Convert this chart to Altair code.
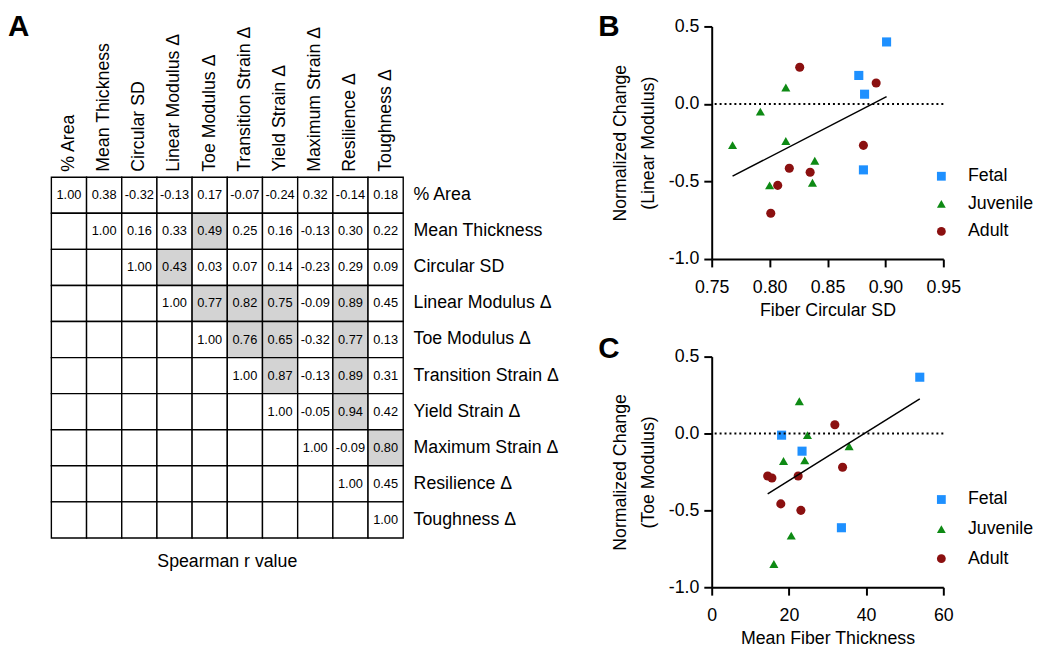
import altair as alt
import pandas as pd

FONT = "Liberation Sans, Arial, Helvetica, sans-serif"
MINUS = "\u2212"

# ---------------- Panel A data ----------------
variables = ["% Area", "Mean Thickness", "Circular SD", "Linear Modulus Δ", "Toe Modulus Δ",
             "Transition Strain Δ", "Yield Strain Δ", "Maximum Strain Δ", "Resilience Δ", "Toughness Δ"]

# Spearman r, upper triangle, each row starting at the diagonal
r_area = [1.00, 0.38, -0.32, -0.13, 0.17, -0.07, -0.24, 0.32, -0.14, 0.18]
r_thickness = [1.00, 0.16, 0.33, 0.49, 0.25, 0.16, -0.13, 0.30, 0.22]
r_circsd = [1.00, 0.43, 0.03, 0.07, 0.14, -0.23, 0.29, 0.09]
r_linmod = [1.00, 0.77, 0.82, 0.75, -0.09, 0.89, 0.45]
r_toemod = [1.00, 0.76, 0.65, -0.32, 0.77, 0.13]
r_transition = [1.00, 0.87, -0.13, 0.89, 0.31]
r_yield = [1.00, -0.05, 0.94, 0.42]
r_maxstrain = [1.00, -0.09, 0.80]
r_resilience = [1.00, 0.45]
r_toughness = [1.00]
r_rows = [r_area, r_thickness, r_circsd, r_linmod, r_toemod,
          r_transition, r_yield, r_maxstrain, r_resilience, r_toughness]

significant = [
    ("Mean Thickness", "Toe Modulus Δ"),
    ("Circular SD", "Linear Modulus Δ"),
    ("Linear Modulus Δ", "Toe Modulus Δ"),
    ("Linear Modulus Δ", "Transition Strain Δ"),
    ("Linear Modulus Δ", "Yield Strain Δ"),
    ("Linear Modulus Δ", "Resilience Δ"),
    ("Toe Modulus Δ", "Transition Strain Δ"),
    ("Toe Modulus Δ", "Yield Strain Δ"),
    ("Toe Modulus Δ", "Resilience Δ"),
    ("Transition Strain Δ", "Yield Strain Δ"),
    ("Transition Strain Δ", "Resilience Δ"),
    ("Yield Strain Δ", "Resilience Δ"),
    ("Maximum Strain Δ", "Toughness Δ"),
]

cells = []
for i, rname in enumerate(variables):
    for j, cname in enumerate(variables):
        if j >= i:
            lab = f"{r_rows[i][j - i]:.2f}"
        else:
            lab = ""
        shade = "yes" if (rname, cname) in significant else "no"
        cells.append({"row": rname, "col": cname, "label": lab, "shade": shade})
cells_df = pd.DataFrame(cells)

# ---------------- Panels B / C data ----------------
groups = ["Fetal", "Juvenile", "Adult"]
group_colors = ["#1E90FF", "#0E8A14", "#8B1010"]
group_shapes = ["square", "triangle-up", "circle"]

b_fetal_x = [0.901, 0.877, 0.882, 0.881]
b_fetal_y = [0.40, 0.184, 0.063, -0.425]
b_juv_x = [0.768, 0.792, 0.814, 0.814, 0.800, 0.839, 0.837]
b_juv_y = [-0.265, -0.049, 0.106, -0.239, -0.525, -0.366, -0.508]
b_adult_x = [0.826, 0.892, 0.881, 0.817, 0.835, 0.807, 0.801]
b_adult_y = [0.237, 0.135, -0.267, -0.415, -0.44, -0.525, -0.705]

c_fetal_x = [53.9, 18.1, 23.4, 33.6]
c_fetal_y = [0.366, -0.011, -0.115, -0.613]
c_juv_x = [22.7, 24.8, 35.6, 18.6, 24.1, 20.6, 16.1]
c_juv_y = [0.21, -0.011, -0.083, -0.179, -0.175, -0.664, -0.849]
c_adult_x = [31.9, 33.9, 14.5, 15.6, 22.4, 17.9, 23.1]
c_adult_y = [0.057, -0.22, -0.277, -0.29, -0.277, -0.458, -0.5]


def make_df(fx, fy, jx, jy, ax, ay):
    rows = []
    for g, xs, ys in (("Fetal", fx, fy), ("Juvenile", jx, jy), ("Adult", ax, ay)):
        for x, y in zip(xs, ys):
            rows.append({"group": g, "x": x, "y": y})
    return pd.DataFrame(rows)


b_df = make_df(b_fetal_x, b_fetal_y, b_juv_x, b_juv_y, b_adult_x, b_adult_y)
c_df = make_df(c_fetal_x, c_fetal_y, c_juv_x, c_juv_y, c_adult_x, c_adult_y)

# ---------------- Panel A chart ----------------
HEADER = 153      # room above the matrix for the column labels
MATRIX_H = 366
x_enc = alt.X("col:N", sort=variables, scale=alt.Scale(paddingInner=0, paddingOuter=0),
              axis=alt.Axis(orient="top", offset=-HEADER, title=None, labelAngle=-90,
                            labelFontSize=18, labelColor="black", labelPadding=6,
                            ticks=False, tickSize=0, domain=False, labelLimit=400, grid=False))
y_enc = alt.Y("row:N", sort=variables,
              scale=alt.Scale(paddingInner=0, paddingOuter=0, range=[HEADER, HEADER + MATRIX_H]),
              axis=alt.Axis(orient="right", title=None, labelFontSize=18, labelColor="black",
                            labelPadding=10, ticks=False, tickSize=0, domain=False,
                            labelLimit=400, grid=False))

heat = alt.Chart(cells_df)
rects = heat.mark_rect(stroke="black", strokeWidth=1.4).encode(
    x=x_enc, y=y_enc,
    fill=alt.Fill("shade:N", scale=alt.Scale(domain=["no", "yes"], range=["white", "#D3D3D3"]),
                  legend=None),
)
texts = heat.mark_text(fontSize=13, color="black").encode(x=x_enc, y=y_enc, text="label:N")
letter_a = alt.Chart(pd.DataFrame({"t": ["A"]})).mark_text(
    fontSize=30, fontWeight="bold", align="left", baseline="alphabetic", color="black"
).encode(x=alt.value(-44), y=alt.value(10), text="t:N")

panel_a = alt.layer(rects, texts, letter_a).properties(
    width=357, height=HEADER + MATRIX_H,
    title=alt.TitleParams("Spearman r value", orient="bottom", fontSize=18,
                          fontWeight="normal", color="black", offset=15),
)


# ---------------- Panels B / C charts ----------------
def scatter(df, xdom, xvals, xfmt, xtitle, ytitle, letter, letter_y, leg_y, leg_pad, height):
    xs = alt.X("x:Q", scale=alt.Scale(domain=xdom, nice=False, zero=False),
               axis=alt.Axis(values=xvals, format=xfmt, title=xtitle, grid=False,
                             labelFontSize=18, titleFontSize=18, titleFontWeight="normal",
                             labelColor="black", titleColor="black", domainColor="black",
                             domainWidth=2, tickColor="black", tickWidth=2, tickSize=8,
                             labelPadding=12, titlePadding=5, labelFlush=False))
    ys = alt.Y("y:Q", scale=alt.Scale(domain=[-1, 0.5], nice=False, zero=False),
               axis=alt.Axis(values=[-1, -0.5, 0, 0.5], format=".1f",
                             labelExpr=f"replace(datum.label, '{MINUS}', '-')",
                             title=ytitle, grid=False, labelFontSize=18, titleFontSize=18,
                             titleFontWeight="normal", labelColor="black", titleColor="black",
                             domainColor="black", domainWidth=2, tickColor="black",
                             tickWidth=2, tickSize=8, labelPadding=5, titlePadding=11,
                             titleLineHeight=28))
    leg = alt.Legend(title=None, orient="none", legendX=224, legendY=leg_y, labelFontSize=18,
                     labelColor="black", symbolSize=80, labelOffset=18, rowPadding=leg_pad,
                     symbolStrokeWidth=0, padding=0)
    base = alt.Chart(df)
    zero = alt.Chart(pd.DataFrame({"z": [0]})).mark_rule(
        color="black", strokeWidth=2, strokeDash=[2, 3]).encode(y=alt.datum(0))
    reg = base.transform_regression("x", "y").mark_line(
        color="black", strokeWidth=1.5).encode(x=xs, y=ys)
    pts = base.mark_point(filled=True, size=85, opacity=1).encode(
        x=xs, y=ys,
        color=alt.Color("group:N", scale=alt.Scale(domain=groups, range=group_colors), legend=leg),
        shape=alt.Shape("group:N", scale=alt.Scale(domain=groups, range=group_shapes), legend=leg),
    )
    lt = alt.Chart(pd.DataFrame({"t": [letter]})).mark_text(
        fontSize=30, fontWeight="bold", align="left", baseline="alphabetic", color="black"
    ).encode(x=alt.value(-115), y=alt.value(letter_y), text="t:N")
    return alt.layer(pts, zero, reg, lt).properties(width=235, height=height)


panel_b = scatter(b_df, [0.75, 0.95], [0.75, 0.80, 0.85, 0.90, 0.95], ".2f",
                  "Fiber Circular SD", ["Normalized Change", "(Linear Modulus)"],
                  "B", 10, 143, 10, 236)
panel_c = scatter(c_df, [0, 60], [0, 20, 40, 60], "d",
                  "Mean Fiber Thickness", ["Normalized Change", "(Toe Modulus)"],
                  "C", 1, 136, 12, 234)

right = alt.vconcat(panel_b, panel_c, spacing=15).resolve_scale(
    color="independent", shape="independent")

chart = alt.hconcat(panel_a, right, spacing=40).properties(
    padding={"left": 0, "top": 0, "right": 0, "bottom": 0}
).configure(font=FONT).configure_view(strokeWidth=0)

chart.save("out.html", embed_options={"renderer": "svg", "actions": False})
